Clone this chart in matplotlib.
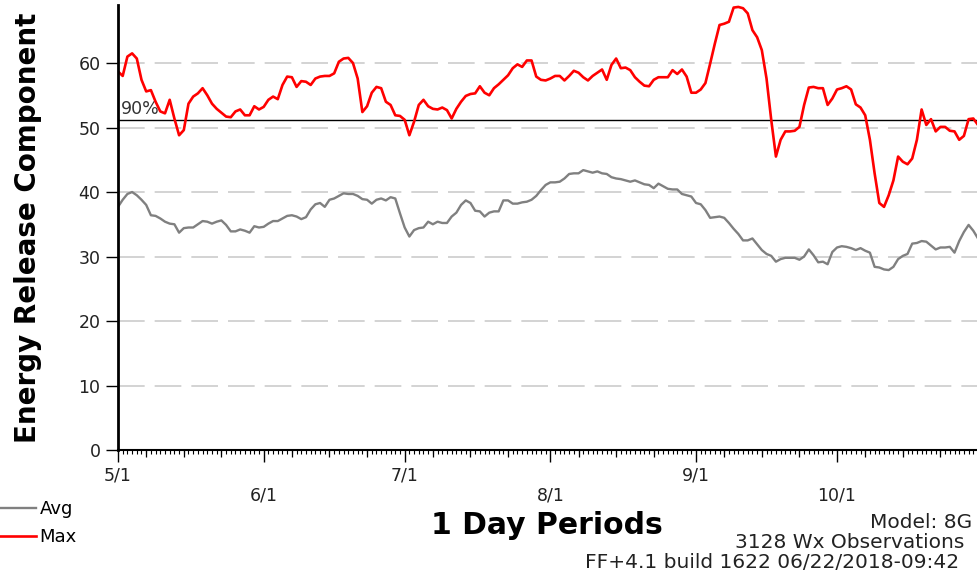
import matplotlib
matplotlib.use('Agg')
import matplotlib.pyplot as plt
import matplotlib.dates as mdates
import pandas as pd

plt.rcParams['font.family'] = 'DejaVu Sans'

#daily values, 5/1 .. 10/31
maxErc = [58.7, 58.0, 61.0, 61.5, 60.7, 57.4, 55.6, 55.8, 54.0, 52.5,
          52.2, 54.3, 51.4, 48.8, 49.6, 53.7, 54.8, 55.3, 56.1, 55.0,
          53.7, 52.9, 52.3, 51.7, 51.6, 52.5, 52.8, 51.9, 51.9, 53.3,
          52.8, 53.2, 54.3, 54.8, 54.4, 56.6, 57.9, 57.8, 56.3, 57.2,
          57.1, 56.6, 57.6, 57.9, 58.0, 58.0, 58.4, 60.2, 60.7, 60.8,
          60.0, 57.6, 52.4, 53.3, 55.4, 56.3, 56.1, 54.0, 53.5, 51.9,
          51.8, 51.2, 48.8, 50.9, 53.5, 54.3, 53.3, 52.9, 52.8, 53.1,
          52.7, 51.4, 52.9, 54.0, 54.9, 55.2, 55.3, 56.4, 55.4, 55.0,
          56.1, 56.7, 57.4, 58.1, 59.2, 59.8, 59.4, 60.4, 60.4, 57.9,
          57.4, 57.3, 57.6, 58.0, 58.0, 57.3, 58.0, 58.8, 58.5, 57.8,
          57.3, 58.0, 58.5, 59.0, 57.4, 59.7, 60.7, 59.2, 59.3, 58.9,
          57.8, 57.1, 56.5, 56.4, 57.4, 57.8, 57.8, 57.8, 58.9, 58.3,
          59.0, 57.9, 55.4, 55.4, 55.9, 56.9, 59.9, 63.0, 65.9, 66.1,
          66.4, 68.6, 68.7, 68.5, 67.7, 65.1, 64.0, 62.0, 57.6, 51.2,
          45.5, 48.1, 49.4, 49.4, 49.5, 50.1, 53.5, 56.2, 56.3, 56.1,
          56.1, 53.5, 54.5, 55.9, 56.1, 56.4, 55.9, 53.6, 53.1, 51.9,
          48.1, 42.9, 38.3, 37.7, 39.5, 41.8, 45.5, 44.7, 44.3, 45.2,
          48.1, 52.8, 50.4, 51.3, 49.4, 50.1, 50.1, 49.5, 49.4, 48.1,
          48.7, 51.3, 51.4, 50.4]

avgErc = [37.7, 38.8, 39.7, 40.0, 39.5, 38.8, 38.0, 36.4, 36.3, 35.9,
          35.4, 35.1, 35.0, 33.7, 34.4, 34.5, 34.5, 35.0, 35.5, 35.4,
          35.1, 35.4, 35.6, 34.9, 33.9, 33.9, 34.2, 34.0, 33.7, 34.7,
          34.5, 34.6, 35.1, 35.5, 35.5, 35.9, 36.3, 36.4, 36.2, 35.8,
          36.1, 37.3, 38.1, 38.3, 37.7, 38.8, 39.0, 39.4, 39.8, 39.7,
          39.7, 39.4, 38.9, 38.8, 38.2, 38.8, 39.0, 38.7, 39.2, 39.0,
          36.7, 34.5, 33.1, 34.1, 34.4, 34.5, 35.4, 35.0, 35.4, 35.2,
          35.2, 36.2, 36.8, 38.0, 38.7, 38.3, 37.1, 37.0, 36.2, 36.8,
          37.0, 37.0, 38.7, 38.7, 38.2, 38.2, 38.4, 38.5, 38.8, 39.4,
          40.3, 41.1, 41.5, 41.5, 41.6, 42.1, 42.8, 42.9, 42.9, 43.4,
          43.2, 43.0, 43.2, 42.9, 42.8, 42.3, 42.1, 42.0, 41.8, 41.6,
          41.8, 41.5, 41.2, 41.1, 40.6, 41.3, 40.9, 40.5, 40.4, 40.4,
          39.7, 39.5, 39.3, 38.3, 38.1, 37.2, 36.0, 36.1, 36.2, 36.0,
          35.2, 34.3, 33.5, 32.5, 32.5, 32.8, 31.9, 31.0, 30.4, 30.1,
          29.2, 29.6, 29.8, 29.8, 29.8, 29.5, 30.0, 31.1, 30.2, 29.1,
          29.2, 28.8, 30.7, 31.4, 31.6, 31.5, 31.3, 31.0, 31.3, 30.9,
          30.6, 28.4, 28.3, 28.0, 27.9, 28.4, 29.6, 30.1, 30.4, 32.0,
          32.1, 32.4, 32.3, 31.7, 31.1, 31.4, 31.4, 31.5, 30.6, 32.4,
          33.8, 34.9, 34.0, 32.8]

startDate = '2018-05-01'
monthLabels = ['5/1', '6/1', '7/1', '8/1', '9/1', '10/1']
yTicks = [0, 10, 20, 30, 40, 50, 60]
percentile90 = 51.2

dates = pd.date_range(startDate, periods=len(maxErc), freq='D')
monthStarts = pd.date_range(startDate, periods=len(monthLabels), freq='MS')

fig = plt.figure(figsize=(9.78, 5.73), dpi=100)
ax = fig.add_axes([118/978, 123/573, 860/978, 445/573])

lineAvg, = ax.plot(dates, avgErc, color='#808080', lw=1.7, label='Avg')
lineMax, = ax.plot(dates, maxErc, color='#ff0000', lw=1.9, label='Max')

#90th percentile line and label
ax.axhline(percentile90, color='black', lw=1.0, zorder=1.5)
ax.text(0.003, percentile90 + 0.3, '90%', transform=ax.get_yaxis_transform(),
        ha='left', va='bottom', fontsize=12.5, color='#333333', zorder=1.6)

ax.set_xlim(dates[0], dates[-1])
ax.set_ylim(0, 69)

#dashed horizontal grid
ax.set_yticks(yTicks)
ax.yaxis.grid(True, color='#cccccc', lw=1.2, linestyle=(0, (16, 6)))
ax.set_axisbelow(True)

ax.spines[['top', 'right']].set_visible(False)
ax.spines['left'].set_linewidth(2.0)
ax.spines['bottom'].set_linewidth(1.5)

ax.tick_params(axis='y', length=8.6, width=1.0, pad=4, labelsize=12.5, labelcolor='#222222')

#month ticks with labels on two staggered rows, daily minor ticks
ax.set_xticks(monthStarts, monthLabels)
ax.xaxis.set_minor_locator(mdates.DayLocator())
ax.tick_params(axis='x', which='major', length=8.6, width=1.0, pad=3, labelsize=12.5, labelcolor='#222222')
ax.tick_params(axis='x', which='minor', length=3, width=0.8)
for i, tick in enumerate(ax.xaxis.get_major_ticks()):
    if i % 2 == 1:
        tick.set_pad(17.5)

#medium ticks inside each month
weekAxis = ax.secondary_xaxis('bottom')
weekAxis.xaxis.set_major_locator(mdates.DayLocator(bymonthday=[7, 15, 23]))
weekAxis.tick_params(axis='x', length=5, width=0.9, labelbottom=False)
weekAxis.spines['bottom'].set_visible(False)

ax.set_ylabel('Energy Release Component', fontsize=20, fontweight='bold')
ax.yaxis.set_label_coords(-0.088, 0.5)

fig.text(547/978, 1 - 525/573, '1 Day Periods', ha='center', va='center',
         fontsize=21.5, fontweight='bold')

fig.legend(handles=[lineAvg, lineMax], loc='upper left', bbox_to_anchor=(0, 1 - 500/573),
           frameon=False, fontsize=13, handlelength=2.0, handletextpad=0.2,
           borderpad=0, borderaxespad=0, labelspacing=0.55)

#run info, bottom right
fig.text(870/978, 1 - 522/573, 'Model: 8G', ha='left', va='center', fontsize=14.5, color='#222222')
fig.text(735/978, 1 - 543/573, '3128 Wx Observations', ha='left', va='center', fontsize=14.5, color='#222222')
fig.text(585/978, 1 - 563/573, 'FF+4.1 build 1622 06/22/2018-09:42', ha='left', va='center',
         fontsize=14.5, color='#222222')

fig.savefig('out.png', dpi=100)
